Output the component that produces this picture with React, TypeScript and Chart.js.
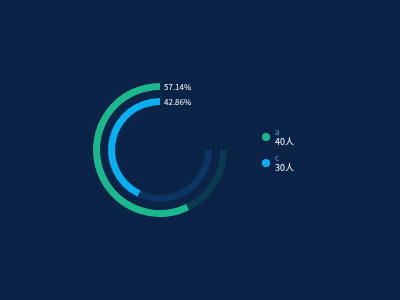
import React, { useEffect, useRef } from "react";
import { Chart, registerables } from "chart.js";

Chart.register(...registerables);

const categories = ["a", "c"];
const values = [40, 30];
const unit = "人";
const colors = ["#1bb88e", "#06aff0"];
const trackColors = ["#0a3a52", "#0c3561"];
const trackShare = 0.75; // background track covers 270°

const BG = "#0b2347";
const FONT = "'Noto Sans CJK SC', 'Noto Sans', sans-serif";
const OUTER_R = 67;
const INNER_R = 45;

export default function App() {
  const ref = useRef<HTMLCanvasElement | null>(null);

  useEffect(() => {
    if (!ref.current) return;
    const total = values.reduce((s, v) => s + v, 0);
    const trackMax = total * trackShare;

    const datasets: any[] = [];
    values.forEach((v, i) => {
      if (i > 0) {
        datasets.push({
          label: "spacer",
          data: [1],
          backgroundColor: ["rgba(0,0,0,0)"],
          borderWidth: 0,
          weight: 8,
        });
      }
      datasets.push({
        label: categories[i],
        data: [trackMax - v, v],
        backgroundColor: [trackColors[i], colors[i]],
        borderWidth: 0,
        weight: 7,
      });
    });

    const labelPlugin = {
      id: "ringLabels",
      afterDatasetsDraw(chart: any) {
        const ctx = chart.ctx;
        ctx.save();
        ctx.font = `8px ${FONT}`;
        ctx.fillStyle = "#ffffff";
        ctx.textAlign = "left";
        ctx.textBaseline = "middle";
        let ringIdx = 0;
        chart.data.datasets.forEach((ds: any, di: number) => {
          if (ds.label === "spacer") return;
          const arc = chart.getDatasetMeta(di).data[1] as any;
          const r = (arc.outerRadius + arc.innerRadius) / 2;
          const pct = ((values[ringIdx] / total) * 100).toFixed(2) + "%";
          ctx.fillText(pct, arc.x + 4, arc.y - r);
          ringIdx++;
        });
        ctx.restore();
      },
    };

    const chart = new Chart(ref.current, {
      type: "doughnut",
      data: { labels: ["rest", "value"], datasets },
      options: {
        animation: false,
        responsive: false,
        devicePixelRatio: 1,
        rotation: 90,
        circumference: 270,
        radius: OUTER_R,
        cutout: `${(INNER_R / OUTER_R) * 100}%`,
        layout: { padding: { left: 0, right: 80, top: 0, bottom: 0 } },
        plugins: { legend: { display: false }, tooltip: { enabled: false } },
      } as any,
      plugins: [labelPlugin],
    });
    return () => chart.destroy();
  }, []);

  return (
    <div
      style={{
        position: "absolute",
        left: 0,
        top: 0,
        width: 400,
        height: 300,
        background: BG,
        overflow: "hidden",
        fontFamily: FONT,
      }}
    >
      <canvas ref={ref} width={400} height={300} style={{ display: "block" }} />
      {categories.map((c, i) => (
        <div
          key={c}
          style={{ position: "absolute", left: 261, top: 127 + i * 25.5, width: 80, height: 22 }}
        >
          <div
            style={{
              position: "absolute",
              left: 1,
              top: 6,
              width: 8,
              height: 8,
              borderRadius: "50%",
              background: colors[i],
            }}
          />
          <div
            style={{
              position: "absolute",
              left: 14,
              top: 0,
              fontSize: 8,
              lineHeight: "10px",
              color: "#3fa2da",
              whiteSpace: "nowrap",
            }}
          >
            {c}
          </div>
          <div
            style={{
              position: "absolute",
              left: 14,
              top: 9,
              fontSize: 9,
              lineHeight: "11px",
              color: "#ffffff",
              whiteSpace: "nowrap",
            }}
          >
            {values[i]}
            {unit}
          </div>
        </div>
      ))}
    </div>
  );
}
